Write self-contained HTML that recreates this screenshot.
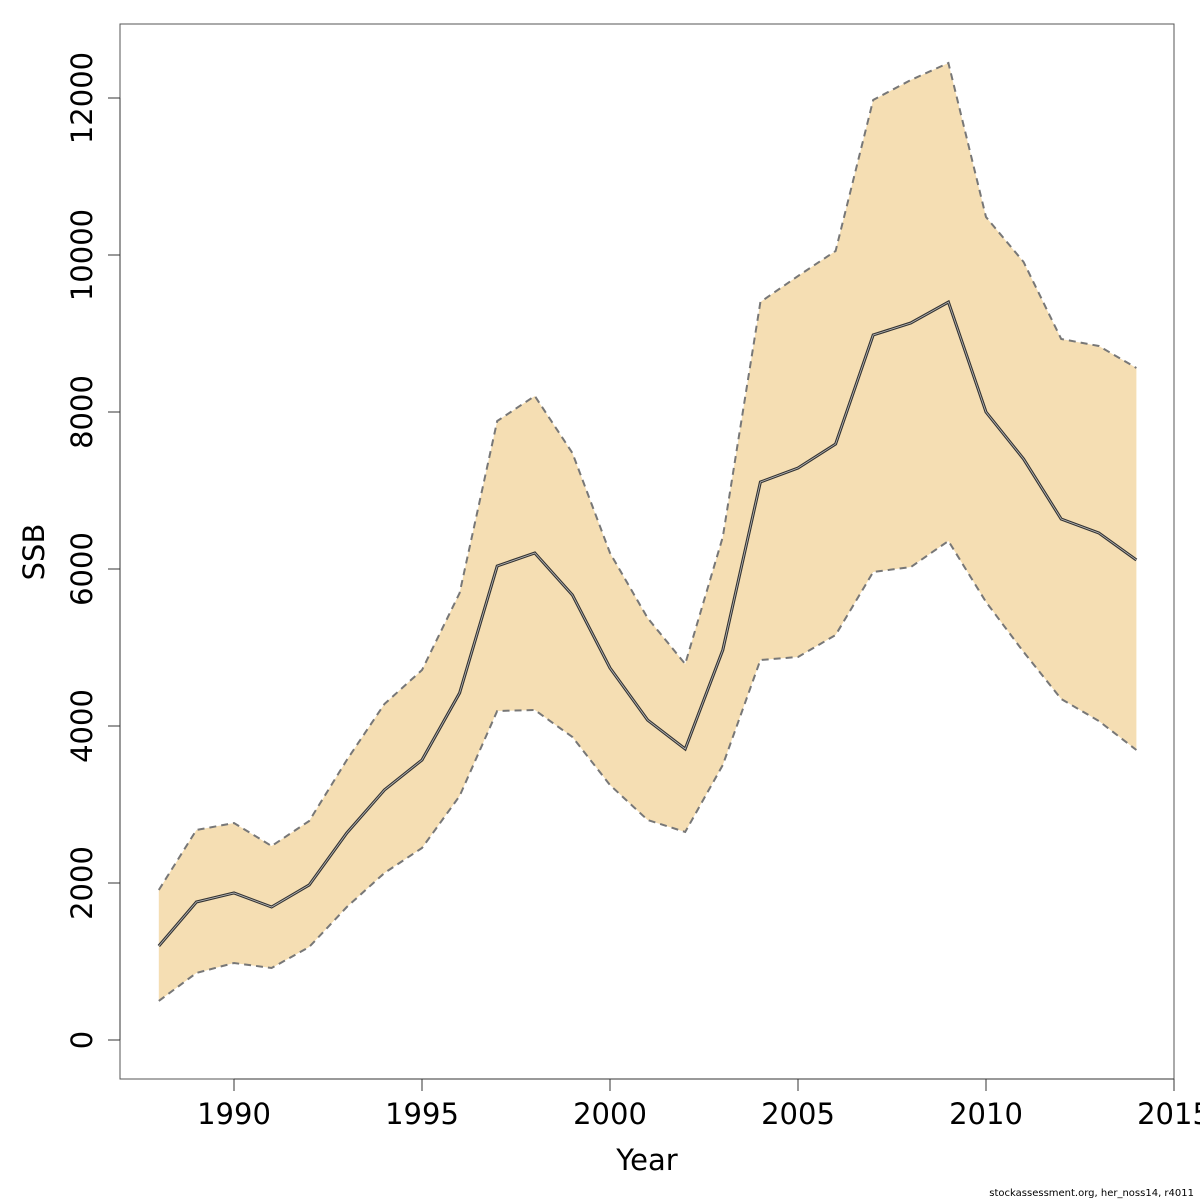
<!DOCTYPE html>
<html><head><meta charset="utf-8"><style>
html,body{margin:0;padding:0;background:#fff;}
svg{display:block;font-family:"DejaVu Sans","Liberation Sans",sans-serif;}
</style></head><body>
<svg id="chart" width="1200" height="1200" viewBox="0 0 1200 1200" xmlns="http://www.w3.org/2000/svg">
<rect x="0" y="0" width="1200" height="1200" fill="#fff"/>
<g id="plot"></g>
<rect x="120" y="24" width="1054" height="1055" fill="none" stroke="#555" stroke-width="1"/>
<g id="xaxis"></g>
<g id="yaxis"></g>
<text x="647" y="1170" font-size="29" text-anchor="middle">Year</text>
<text x="44" y="552" font-size="29" text-anchor="middle" transform="rotate(-90 44 552)">SSB</text>
<text x="1194" y="1196" font-size="10" text-anchor="end">stockassessment.org, her_noss14, r4011</text>
</svg>
<script>
const years=[1988,1989,1990,1991,1992,1993,1994,1995,1996,1997,1998,1999,2000,2001,2002,2003,2004,2005,2006,2007,2008,2009,2010,2011,2012,2013,2014];
const ssb=[1197,1758,1873,1694,1975,2637,3185,3567,4420,6038,6204,5669,4739,4076,3707,4968,7108,7287,7592,8981,9134,9401,8000,7401,6637,6459,6115];
const upper=[1911,2675,2764,2471,2790,3567,4280,4713,5694,7885,8204,7478,6204,5376,4790,6408,9401,9732,10051,11975,12229,12446,10484,9911,8930,8841,8561];
const lower=[497,854,981,917,1185,1694,2127,2446,3108,4191,4204,3860,3248,2803,2650,3503,4841,4879,5159,5962,6025,6357,5580,4943,4344,4064,3694];
const xTicks=[1990,1995,2000,2005,2010,2015];
const yTicks=[0,2000,4000,6000,8000,10000,12000];
const NS="http://www.w3.org/2000/svg";
const X=v=>234+(v-1990)*37.6;
const Y=v=>1040-v*0.0785;
function mk(t,a,p){const e=document.createElementNS(NS,t);for(const k in a)e.setAttribute(k,a[k]);p.appendChild(e);return e;}
const plot=document.getElementById('plot');
const up=years.map((y,i)=>X(y)+','+Y(upper[i]));
const lo=years.map((y,i)=>X(y)+','+Y(lower[i])).reverse();
const band=mk('polygon',{points:up.concat(lo).join(' '),fill:'#F5DEB3',stroke:'none'},plot);


const ul=mk('polyline',{points:up.join(' '),fill:'none',stroke:'#777','stroke-width':2,'stroke-dasharray':'7,5'},plot);


const ll=mk('polyline',{points:years.map((y,i)=>X(y)+','+Y(lower[i])).join(' '),fill:'none',stroke:'#777','stroke-width':2,'stroke-dasharray':'7,5'},plot);


const ml=mk('polyline',{points:years.map((y,i)=>X(y)+','+Y(ssb[i])).join(' '),fill:'none',stroke:'#333','stroke-width':3},plot);


mk('polyline',{points:years.map((y,i)=>X(y)+','+Y(ssb[i])).join(' '),fill:'none',stroke:'#bbb','stroke-width':0.8},plot);
const xa=document.getElementById('xaxis');
mk('line',{x1:X(xTicks[0]),x2:X(xTicks[xTicks.length-1]),y1:1079,y2:1079,stroke:'#333'},xa);
xTicks.forEach(t=>{
 mk('line',{x1:X(t),x2:X(t),y1:1079,y2:1091,stroke:'#333'},xa);
 const tx=mk('text',{x:X(t),y:1124,'font-size':29,'text-anchor':'middle'},xa);tx.textContent=t;
 
 
});
const ya=document.getElementById('yaxis');
mk('line',{x1:120,x2:120,y1:Y(0),y2:Y(12000),stroke:'#333'},ya);
yTicks.forEach(t=>{
 mk('line',{x1:108,x2:120,y1:Y(t),y2:Y(t),stroke:'#333'},ya);
 const tx=mk('text',{x:92,y:Y(t),'font-size':29,'text-anchor':'middle',transform:`rotate(-90 92 ${Y(t)})`},ya);tx.textContent=t;
 
 
});
</script>
</body></html>
